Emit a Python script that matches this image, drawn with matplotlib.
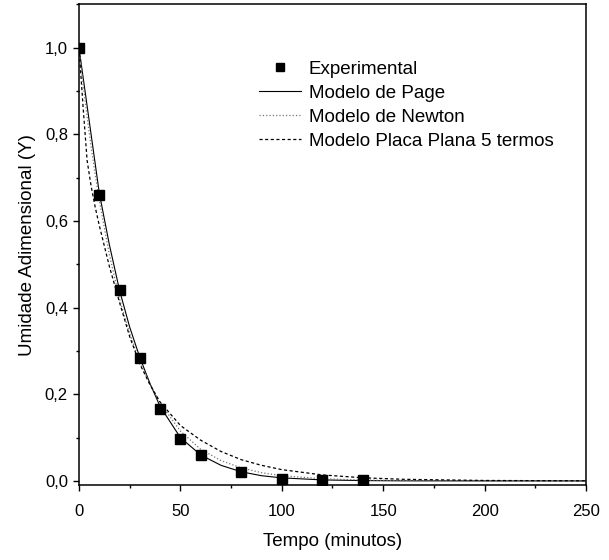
import numpy as np
import matplotlib.pyplot as plt
from matplotlib.ticker import MultipleLocator, FuncFormatter

plt.rcParams['font.family'] = ['Liberation Sans', 'DejaVu Sans']

# drying data: time (min) vs dimensionless moisture
t_exp = [0, 10, 20, 30, 40, 50, 60, 80, 100, 120, 140]
y_exp = [1.0, 0.66, 0.44, 0.283, 0.166, 0.096, 0.060, 0.020, 0.005, 0.002, 0.001]

# model curves, sampled on a common time grid
t_mod = [0, 2, 4, 6, 8, 10, 15, 20, 25, 30, 35, 40, 50, 60, 70, 80, 90, 100,
         120, 140, 160, 200, 250]
y_page = [1.0, 0.933, 0.866, 0.799, 0.732, 0.665, 0.545, 0.44, 0.355, 0.285,
          0.225, 0.172, 0.100, 0.060, 0.036, 0.021, 0.012, 0.007, 0.0023,
          0.0007, 0.0002, 0.0, 0.0]
y_newton = [1.0, 0.917, 0.841, 0.771, 0.707, 0.648, 0.522, 0.42, 0.34, 0.276,
            0.224, 0.180, 0.115, 0.073, 0.047, 0.030, 0.019, 0.012, 0.005,
            0.002, 0.0008, 0.0001, 0.0]
y_placa = [1.0, 0.865, 0.74, 0.68, 0.632, 0.59, 0.495, 0.412, 0.333, 0.27,
           0.222, 0.182, 0.128, 0.094, 0.068, 0.049, 0.036, 0.026, 0.0138,
           0.0072, 0.0037, 0.001, 0.0002]

fig = plt.figure(figsize=(6.09, 5.60), dpi=100)
ax = fig.add_axes([0.1297, 0.1339, 0.8325, 0.8581])

ax.plot(t_exp, y_exp, 's', color='black', markersize=6.8, label='Experimental', zorder=5)
ax.plot(t_mod, y_page, '-', color='black', lw=0.8, label='Modelo de Page')
ax.plot(t_mod, y_newton, ':', color='0.45', lw=0.9, label='Modelo de Newton')
ax.plot(t_mod, y_placa, color='black', lw=0.9, dashes=(2.5, 2.0),
        label='Modelo Placa Plana 5 termos')

ax.set_xlim(0, 250)
ax.set_ylim(-0.0095, 1.10)
ax.xaxis.set_major_locator(MultipleLocator(50))
ax.xaxis.set_minor_locator(MultipleLocator(25))
ax.yaxis.set_major_locator(MultipleLocator(0.2))
ax.yaxis.set_minor_locator(MultipleLocator(0.1))
ax.yaxis.set_major_formatter(FuncFormatter(lambda v, p: f'{v:.1f}'.replace('.', ',')))

ax.tick_params(which='both', direction='out', top=False, right=False, width=1.0)
ax.tick_params(which='major', length=4, labelsize=12)
ax.tick_params(which='minor', length=2.5)
ax.tick_params(axis='x', which='major', pad=10)
ax.tick_params(axis='y', which='major', pad=4)
for s in ax.spines.values():
    s.set_linewidth(1.1)

ax.set_xlabel('Tempo (minutos)', fontsize=13.5, labelpad=10)
ax.set_ylabel('Umidade Adimensional (Y)', fontsize=13.5, labelpad=6)

leg = ax.legend(loc='upper left', bbox_to_anchor=(0.355, 0.883), frameon=False,
                fontsize=13.5, handlelength=2.25, handletextpad=0.4,
                labelspacing=0.37, borderpad=0, borderaxespad=0, markerscale=0.8)

fig.savefig('out.png', dpi=100)
